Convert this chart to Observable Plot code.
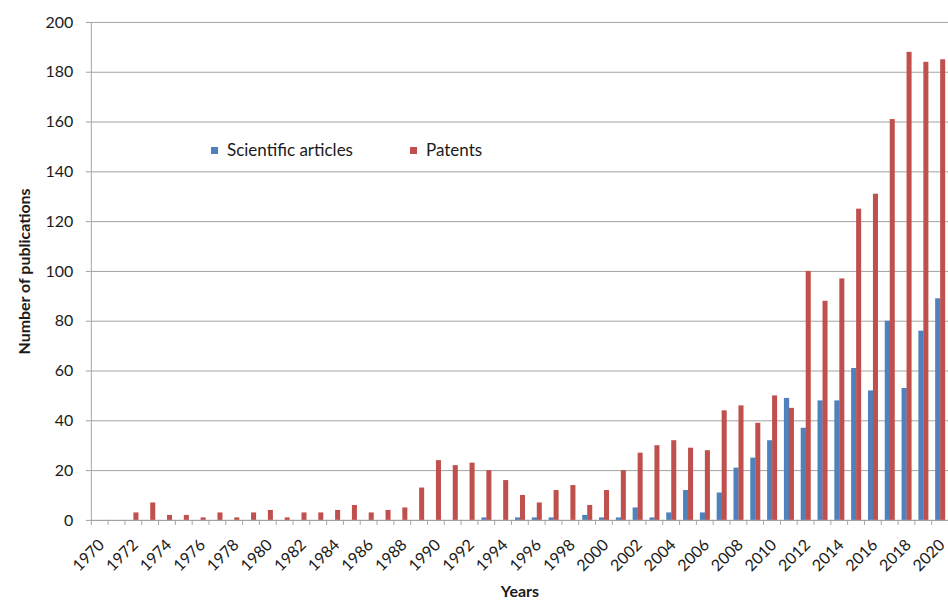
<!DOCTYPE html>
<html>
<head>
<meta charset="utf-8">
<script src="https://cdn.jsdelivr.net/npm/d3@7"></script>
<script src="https://cdn.jsdelivr.net/npm/@observablehq/plot@0.6"></script>
<style>
  html, body { margin: 0; padding: 0; background: #fff; }
  #wrap { position: relative; width: 948px; height: 603px; overflow: hidden; font-family: Lato, sans-serif; color: #1a1a1a; }
  #wrap svg { display: block; }
  g[aria-label="x-axis label"] text, g[aria-label="y-axis label"] text { font-weight: 700; }
  .legend { position: absolute; display: flex; align-items: center; font: 17px/20px Lato, sans-serif; color: #1a1a1a; white-space: nowrap; }
  .legend .sw { display: inline-block; width: 7px; height: 7px; margin-right: 9px; }
</style>
</head>
<body>
<div id="wrap"></div>
<script>
// ---- data ----
const years = [1970,1971,1972,1973,1974,1975,1976,1977,1978,1979,
               1980,1981,1982,1983,1984,1985,1986,1987,1988,1989,
               1990,1991,1992,1993,1994,1995,1996,1997,1998,1999,
               2000,2001,2002,2003,2004,2005,2006,2007,2008,2009,
               2010,2011,2012,2013,2014,2015,2016,2017,2018,2019,2020];
const articles = [0,0,0,0,0,0,0,0,0,0,
                  0,0,0,0,0,0,0,0,0,0,
                  0,0,0,1,0,1,1,1,0,2,
                  1,1,5,1,3,12,3,11,21,25,
                  32,49,37,48,48,61,52,80,53,76,89];
const patents = [0,0,3,7,2,2,1,3,1,3,
                 4,1,3,3,4,6,3,4,5,13,
                 24,22,23,20,16,10,7,12,14,6,
                 12,20,27,30,32,29,28,44,46,39,
                 50,45,100,88,97,125,131,161,188,184,185];
const yTicks = [0,20,40,60,80,100,120,140,160,180,200];
const xTickLabels = [1970,1972,1974,1976,1978,1980,1982,1984,1986,1988,1990,1992,1994,1996,1998,
                     2000,2002,2004,2006,2008,2010,2012,2014,2016,2018,2020];
const seriesNames = ["Scientific articles", "Patents"];
const seriesColors = ["#4F81BD", "#C0504D"];

// ---- chart ----
const W = 950, H = 603, ML = 91, MR = 0, MT = 22, MB = 82;
const bw = (W - ML - MR) / years.length;
const data = years.map((year, i) => ({year, articles: articles[i], patents: patents[i]}));
const gridColor = "#a3a3a3";

const chart = Plot.plot({
  width: W, height: H,
  marginLeft: ML, marginRight: MR, marginTop: MT, marginBottom: MB,
  style: {fontFamily: "Lato, sans-serif", fontSize: "16px", color: "#1a1a1a", background: "#fff"},
  x: {type: "band", domain: years, padding: 0, axis: null},
  y: {domain: [0, 200], axis: null},
  marks: [
    Plot.gridY(yTicks, {stroke: gridColor, strokeOpacity: 1}),
    Plot.barY(data, {x: "year", y: "articles", fill: seriesColors[0], insetLeft: 4, insetRight: 7.6}),
    Plot.barY(data, {x: "year", y: "patents", fill: seriesColors[1], insetLeft: 9, insetRight: 2.8}),
    Plot.ruleY([0], {stroke: gridColor}),
    Plot.ruleX([years[0]], {dx: -bw / 2, stroke: gridColor}),
    Plot.axisY({ticks: yTicks, tickSize: 5, tickPadding: 13, stroke: gridColor, fontSize: 16,
                label: "Number of publications", labelArrow: false, labelAnchor: "center", labelOffset: 73}),
    Plot.axisX({ticks: years, tickSize: 5, tickFormat: () => "", dx: -bw / 2, stroke: gridColor, label: null}),
    Plot.axisX({ticks: xTickLabels, tickSize: 0, tickPadding: 22, dx: 2, tickRotate: -45, fontSize: 16,
                tickFormat: (d) => String(d),
                label: "Years", labelArrow: false, labelAnchor: "center", labelOffset: 77})
  ]
});

const wrap = document.getElementById("wrap");
wrap.appendChild(chart);

// legend (inside plot area, HTML overlay)
const legendPos = [{left: 211, top: 140}, {left: 410, top: 140}];
seriesNames.forEach((name, i) => {
  const d = document.createElement("div");
  d.className = "legend";
  d.style.left = legendPos[i].left + "px";
  d.style.top = legendPos[i].top + "px";
  const sw = document.createElement("span");
  sw.className = "sw";
  sw.style.background = seriesColors[i];
  d.appendChild(sw);
  d.appendChild(document.createTextNode(name));
  wrap.appendChild(d);
});
</script>
</body>
</html>
